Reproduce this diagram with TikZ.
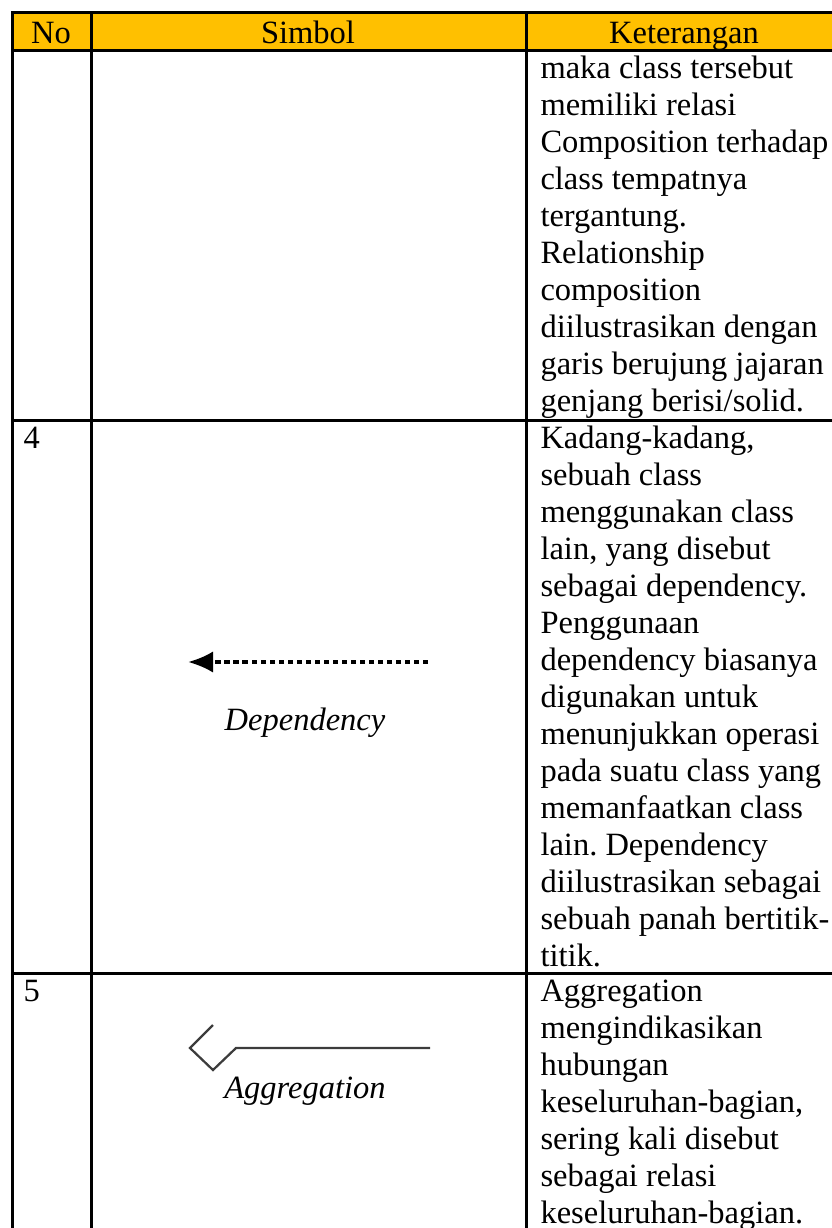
\documentclass[tikz,border=0pt]{standalone}
\usepackage{fontspec}
\setmainfont{Liberation Serif}
\usetikzlibrary{arrows.meta}
\frenchspacing
\definecolor{headorange}{HTML}{FFC000}
\definecolor{symgray}{HTML}{3C3C3C}
\tikzset{
  grid line/.style={line width=1.2pt},
  cell text/.style={anchor=base west, inner sep=0pt, font=\fontsize{13}{14.8}\selectfont},
  head text/.style={anchor=base, inner sep=0pt, font=\fontsize{13}{14.8}\selectfont},
  sym label/.style={anchor=base, inner sep=0pt, font=\fontsize{13}{14.8}\selectfont\itshape},
  dep arrow/.style={line width=1.3pt, dash pattern=on 2.2pt off 1.4pt, -{Latex[length=10pt,width=8.5pt]}},
  agg line/.style={symgray, line width=0.9pt},
}

\begin{document}
\begin{tikzpicture}[x=0.4pt,y=-0.4pt]
    \useasboundingbox (0,0) rectangle (832,1228);
    % header
    \fill[headorange] (12,12) rectangle (845,50);
    \node[head text] (hNo) at (51,43) {No};
    \node[head text] (hSimbol) at (308,43) {Simbol};
    \node[head text] (hKet) at (684,43) {Keterangan};
    % grid
    \draw[grid line] (845,12) -- (12,12) -- (12,1240);
    \draw[grid line] (91,12) -- (91,1240);
    \draw[grid line] (526,12) -- (526,1240);
    \draw[grid line] (12,50) -- (845,50);
    \draw[grid line] (12,420) -- (845,420);
    \draw[grid line] (12,973) -- (845,973);
    % row 3 (lanjutan)
    \foreach \t [count=\i from 0] in {maka class tersebut, memiliki relasi,
        Composition terhadap, class tempatnya, tergantung., Relationship,
        composition, diilustrasikan dengan, garis berujung jajaran,
        genjang berisi/solid.}
        \node[cell text] (ketC\i) at (540,78+37*\i) {\t};
    % row 4
    \node[cell text] (no4) at (23,448) {4};
    \foreach \t [count=\i from 0] in {{Kadang-kadang,}, sebuah class,
        menggunakan class, {lain, yang disebut}, sebagai dependency.,
        Penggunaan, dependency biasanya, digunakan untuk,
        menunjukkan operasi, pada suatu class yang, memanfaatkan class,
        lain. Dependency, diilustrasikan sebagai, sebuah panah bertitik-,
        titik.}
        \node[cell text] (ketD\i) at (540,448+37*\i) {\t};
    \coordinate (depEnd) at (428,662);
    \coordinate (depTip) at (188,662);
    \draw[dep arrow] (depEnd) -- (depTip);
    \node[sym label] (depLabel) at (305,730) {Dependency};
    % row 5
    \node[cell text] (no5) at (23,1001) {5};
    \foreach \t [count=\i from 0] in {Aggregation, mengindikasikan, hubungan,
        keseluruhan-bagian{,}, sering kali disebut, sebagai relasi,
        keseluruhan-bagian.}
        \node[cell text] (ketA\i) at (540,1001+37*\i) {\t};
    \coordinate (aggTop) at (213,1025);
    \coordinate (aggLeft) at (190,1048);
    \coordinate (aggBottom) at (213,1070);
    \coordinate (aggRight) at (236,1048);
    \coordinate (aggEnd) at (430,1048);
    \draw[agg line] (aggTop) -- (aggLeft) -- (aggBottom) -- (aggRight) -- (aggEnd);
    \node[sym label] (aggLabel) at (305,1098) {Aggregation};
\end{tikzpicture}
\end{document}
